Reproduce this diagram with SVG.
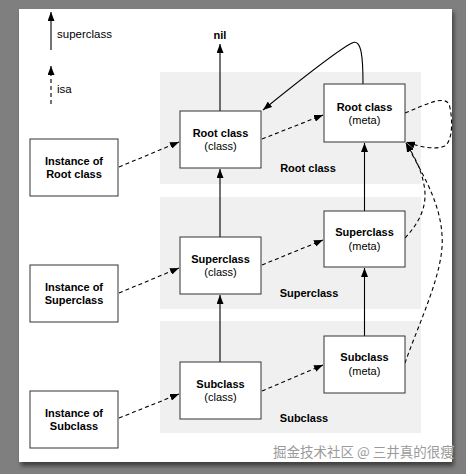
<svg xmlns="http://www.w3.org/2000/svg" width="466" height="474" viewBox="0 0 466 474">
<defs>
<marker id="ah" viewBox="0 0 10 10" refX="10" refY="5" markerWidth="9" markerHeight="7" preserveAspectRatio="none" markerUnits="userSpaceOnUse" orient="auto">
<path d="M0,0 L10,5 L0,10 Z" fill="#000"/>
</marker>
<filter id="sh" x="-5%" y="-5%" width="110%" height="110%"><feGaussianBlur stdDeviation="2"/></filter>
</defs>
<style>
.box{fill:#fff;stroke:#333;stroke-width:1}
.panel{fill:#f0f0f0}
.b{font-family:"Liberation Sans",Arial,sans-serif;font-weight:bold;font-size:11px;fill:#000;text-anchor:middle}
.r{font-family:"Liberation Sans",Arial,sans-serif;font-size:11px;fill:#000;text-anchor:middle}
.lg{font-family:"Liberation Sans",Arial,sans-serif;font-size:11.5px;fill:#000}
.s{fill:none;stroke:#000;stroke-width:1.1;marker-end:url(#ah)}
.d{fill:none;stroke:#000;stroke-width:1.1;stroke-dasharray:4,3;marker-end:url(#ah)}
.wm{font-family:"Noto Sans CJK SC","Liberation Sans",sans-serif;font-size:13.5px;fill:#9a9a9a;stroke:#fff;stroke-width:0.5;paint-order:stroke}
</style>
<rect x="0" y="0" width="466" height="474" fill="#7f7f7f"/>
<rect x="21" y="12" width="433" height="454" fill="#404040" filter="url(#sh)"/>
<rect x="19" y="9" width="433" height="453" fill="#fff"/>
<g id="panels">
<rect class="panel" x="160" y="72" width="261" height="112"/>
<rect class="panel" x="160" y="197" width="261" height="112"/>
<rect class="panel" x="160" y="321" width="261" height="112"/>
<text class="b" x="308" y="172">Root class</text>
<text class="b" x="309" y="297">Superclass</text>
<text class="b" x="304" y="422">Subclass</text>
</g>
<g id="legend">
<line x1="51" y1="50" x2="51" y2="12" class="s"/>
<text class="lg" x="57" y="38">superclass</text>
<line x1="51" y1="104" x2="51" y2="66" class="d"/>
<text class="lg" x="57" y="93">isa</text>
</g>
<g id="nil"><text class="b" x="220" y="39">nil</text></g>
<g id="connectors">
<line x1="220" y1="111" x2="220" y2="44" class="s"/>
<line x1="220" y1="237" x2="220" y2="169" class="s"/>
<line x1="220" y1="362" x2="220" y2="295" class="s"/>
<line x1="364.5" y1="211" x2="364.5" y2="143" class="s"/>
<line x1="364.5" y1="336" x2="364.5" y2="268" class="s"/>
<path class="s" d="M363,84 C363,60 362,38 352,43 C340,49 300,80 263,110"/>
<line x1="119" y1="167" x2="179" y2="142" class="d"/>
<line x1="119" y1="293" x2="179" y2="268" class="d"/>
<line x1="119" y1="418" x2="179" y2="394" class="d"/>
<line x1="262" y1="139" x2="323" y2="115" class="d"/>
<line x1="262" y1="265" x2="323" y2="240" class="d"/>
<line x1="262" y1="391" x2="323" y2="365" class="d"/>
<path class="d" d="M405,113 C425,105 443,95 449,104 C453,118 453,140 445,146 C435,150 420,147 406,142"/>
<path class="d" d="M405,238 C420,222 428,205 424,185 C421,168 414,156 406,143"/>
<path class="d" d="M405,363 C420,320 445,270 442,235 C440,200 420,170 406,143"/>
</g>
<g id="inst-root"><rect class="box" x="30" y="139" width="88" height="57"/><text class="b" x="74" y="165">Instance of</text><text class="b" x="74" y="178">Root class</text></g>
<g id="inst-super"><rect class="box" x="30" y="265" width="88" height="57"/><text class="b" x="74" y="291">Instance of</text><text class="b" x="74" y="304">Superclass</text></g>
<g id="inst-sub"><rect class="box" x="30" y="391" width="88" height="57"/><text class="b" x="74" y="417">Instance of</text><text class="b" x="74" y="430">Subclass</text></g>
<g id="root-class"><rect class="box" x="180" y="111" width="81" height="57"/><text class="b" x="220.5" y="137">Root class</text><text class="r" x="220.5" y="150">(class)</text></g>
<g id="super-class"><rect class="box" x="180" y="237" width="81" height="57"/><text class="b" x="220.5" y="263">Superclass</text><text class="r" x="220.5" y="276">(class)</text></g>
<g id="sub-class"><rect class="box" x="180" y="362" width="81" height="57"/><text class="b" x="220.5" y="388">Subclass</text><text class="r" x="220.5" y="401">(class)</text></g>
<g id="root-meta"><rect class="box" x="324" y="84" width="81" height="58"/><text class="b" x="364.5" y="111">Root class</text><text class="r" x="364.5" y="124">(meta)</text></g>
<g id="super-meta"><rect class="box" x="324" y="211" width="81" height="56"/><text class="b" x="364.5" y="236">Superclass</text><text class="r" x="364.5" y="250">(meta)</text></g>
<g id="sub-meta"><rect class="box" x="324" y="336" width="81" height="57"/><text class="b" x="364.5" y="361">Subclass</text><text class="r" x="364.5" y="375">(meta)</text></g>
<text class="wm" x="273" y="457">掘金技术社区 @ 三井真的很瘦</text>
</svg>
